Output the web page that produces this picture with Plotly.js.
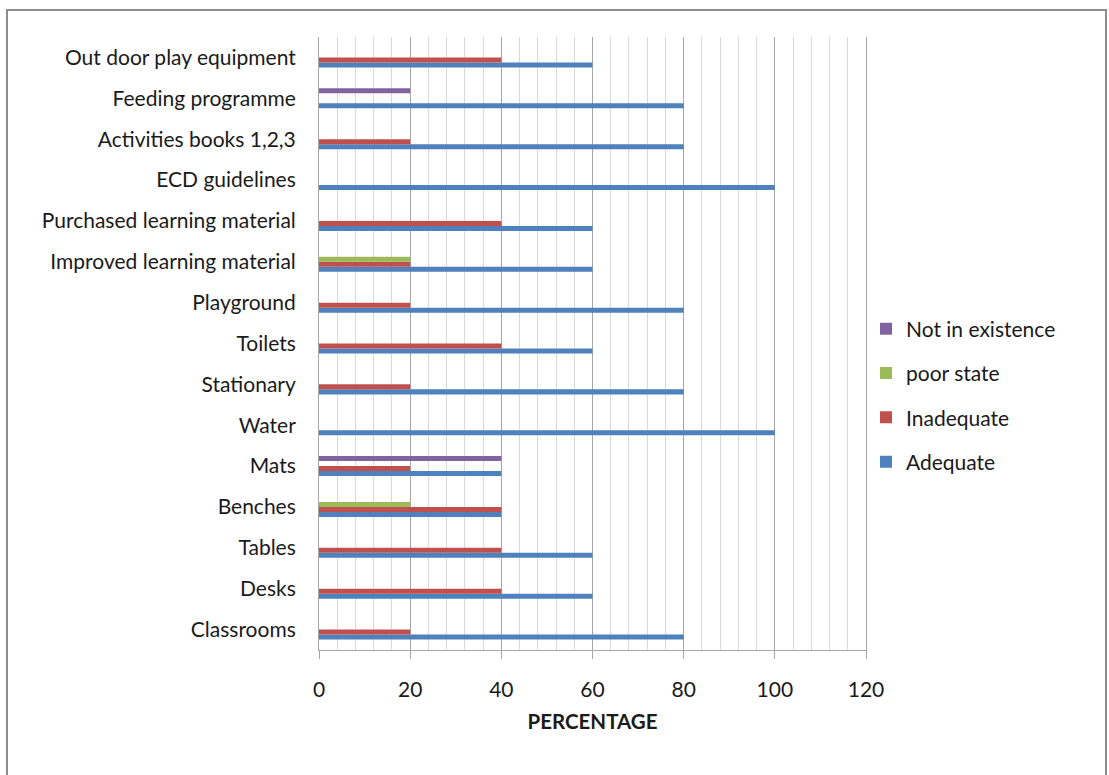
<!DOCTYPE html>
<html>
<head>
<meta charset="utf-8">
<script src="https://cdn.plot.ly/plotly-3.0.1.min.js"></script>
<style>
  html, body { margin: 0; padding: 0; background: #ffffff; }
  #chart { width: 1109px; height: 775px; }
</style>
</head>
<body>
<div id="chart"></div>
<script>
// Categories listed bottom-to-top as drawn on the chart
const categories = [
  "Classrooms", "Desks", "Tables", "Benches", "Mats", "Water", "Stationary",
  "Toilets", "Playground", "Improved learning material",
  "Purchased learning material", "ECD guidelines", "Activities books 1,2,3",
  "Feeding programme", "Out door play equipment"
];
const adequate       = [80, 60, 60, 40, 40, 100, 80, 60, 80, 60, 60, 100, 80, 80, 60];
const inadequate     = [20, 40, 40, 40, 20, 0, 20, 40, 20, 20, 40, 0, 20, 0, 40];
const poorState      = [0, 0, 0, 20, 0, 0, 0, 0, 0, 20, 0, 0, 0, 0, 0];
const notInExistence = [0, 0, 0, 0, 40, 0, 0, 0, 0, 0, 0, 0, 0, 20, 0];
const xTickValues = [0, 20, 40, 60, 80, 100, 120];

const FONT = "Lato, 'Open Sans', sans-serif";
const TEXT = "#1a1a1a";

function series(name, values, color, group, rank) {
  return {
    type: "bar", orientation: "h", name: name,
    x: values, y: categories,
    legendgroup: group,
    legendrank: rank,
    marker: { color: color },
    hoverinfo: "x+y+name"
  };
}

const data = [
  series("Adequate", adequate, "#4F81BD", "a", 4),
  series("Inadequate", inadequate, "#C0504D", "b", 3),
  series("poor state", poorState, "#9BBB59", "c", 2),
  series("Not in existence", notInExistence, "#8064A2", "d", 1)
];

const layout = {
  width: 1109, height: 775,
  margin: { l: 319, r: 243, t: 37, b: 125, pad: 0 },
  paper_bgcolor: "#ffffff",
  plot_bgcolor: "#ffffff",
  font: { family: FONT, size: 21, color: TEXT },
  barmode: "group",
  bargap: 0.51,
  bargroupgap: 0,
  showlegend: true,
  legend: {
    x: 1.0, y: 0.415, xanchor: "left", yanchor: "middle",
    traceorder: "grouped",
    tracegroupgap: 14,
    itemwidth: 30,
    font: { family: FONT, size: 21, color: TEXT },
    bgcolor: "rgba(0,0,0,0)"
  },
  xaxis: {
    range: [0, 120],
    tickvals: xTickValues,
    ticktext: xTickValues.map(String),
    showgrid: true, gridcolor: "#a6a6a6", gridwidth: 1,
    minor: { dtick: 4, tick0: 0, showgrid: true, gridcolor: "#d9d9d9", gridwidth: 1, ticks: "" },
    showline: true, linecolor: "#a6a6a6", linewidth: 1,
    ticks: "outside", ticklen: 8, tickcolor: "#a6a6a6", tickwidth: 1,
    ticklabelstandoff: 13,
    zeroline: false,
    tickfont: { family: FONT, size: 21, color: TEXT },
    title: { text: "<b>PERCENTAGE</b>", font: { family: FONT, size: 20.5, color: TEXT }, standoff: 14 }
  },
  yaxis: {
    type: "category",
    categoryorder: "array", categoryarray: categories,
    showgrid: false,
    showline: true, mirror: true, linecolor: "#a6a6a6", linewidth: 1,
    ticks: "", ticklabelstandoff: 18,
    zeroline: false,
    tickfont: { family: FONT, size: 21, color: TEXT }
  },
  shapes: [{
    type: "rect", xref: "paper", yref: "paper",
    x0: (7 - 319) / 547, x1: (1106 - 319) / 547,
    y0: (650 - 780) / 613, y1: (650 - 10) / 613,
    line: { color: "#8c8c8c", width: 2 },
    fillcolor: "rgba(0,0,0,0)",
    layer: "below"
  }]
};

Plotly.newPlot("chart", data, layout, { displayModeBar: false, staticPlot: true });
</script>
</body>
</html>
